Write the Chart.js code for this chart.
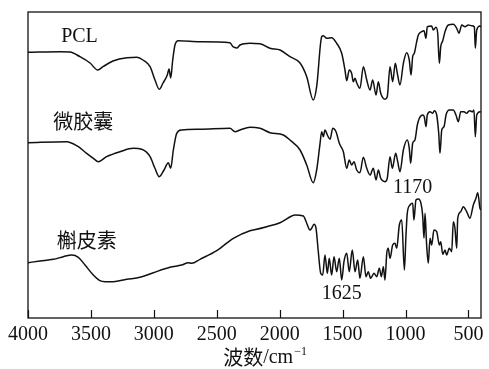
<!doctype html>
<html lang="zh">
  <head>
    <meta charset="utf-8">
    <script src="https://cdn.jsdelivr.net/npm/chart.js@4.4.1/dist/chart.umd.min.js"></script>
    <style>
      html, body { margin: 0; padding: 0; background: #fff; }
      #wrap { width: 489px; height: 369px; }
    </style>
  </head>
  <body>
    <div id="wrap"><canvas id="ftir"></canvas></div>
    <script>
      // tick labels of the wavenumber axis
      const tickValues = [4000, 3500, 3000, 2500, 2000, 1500, 1000, 500];

      // PCL spectrum (wavenumber / relative transmittance, stacked offset)
      const pclWn = [4000, 3746, 3666, 3587, 3507, 3446, 3404, 3325, 3213, 3134, 3086, 3030, 2991, 2957, 2927, 2893, 2879, 2866, 2850, 2832, 2806, 2633, 2395, 2371, 2341, 2315, 2236, 2156, 2077, 1997, 1918, 1838, 1785, 1733, 1706, 1666, 1653, 1626, 1587, 1547, 1507, 1481, 1467, 1447, 1428, 1415, 1401, 1388, 1362, 1335, 1308, 1282, 1261, 1234, 1216, 1197, 1163, 1145, 1123, 1102, 1081, 1065, 1044, 1017, 991, 970, 956, 943, 930, 911, 898, 871, 853, 837, 827, 792, 779, 758, 744, 731, 720, 704, 686, 660, 620, 593, 575, 553, 527, 501, 474, 453, 445, 434, 408, 400];
      const pclT = [265.7, 266.3, 266, 261.3, 255, 248, 251.3, 257, 260.3, 260.7, 258, 251.3, 238, 228.7, 235, 243, 249, 240, 258, 273, 277.3, 276.3, 275.3, 271.3, 270, 273, 274.7, 274.3, 269.7, 268, 261.3, 255, 241.3, 218, 231.3, 281.3, 282.3, 279.7, 280.3, 274.7, 264.7, 248, 237.3, 248, 244.7, 236.3, 239.7, 235.3, 229.7, 251.3, 238, 228, 238, 223, 236.3, 224.7, 218.7, 221.3, 251.3, 236.3, 254.7, 244.7, 233, 254.7, 265.3, 258, 243, 261.3, 264.7, 276.3, 283, 286.3, 287.3, 279.7, 291.3, 292, 288, 290.7, 284.7, 254.7, 271.3, 277.3, 286.3, 293, 293.7, 289.7, 284.7, 293, 291.3, 293, 292.3, 291.3, 269.7, 288, 292, 291];

      // 微胶囊 spectrum
      const capWn = [4000, 3692, 3613, 3534, 3481, 3441, 3375, 3269, 3163, 3096, 3030, 2991, 2957, 2919, 2885, 2866, 2845, 2818, 2779, 2633, 2395, 2355, 2315, 2236, 2156, 2077, 1971, 1918, 1838, 1785, 1733, 1706, 1679, 1666, 1653, 1640, 1621, 1600, 1578, 1552, 1526, 1494, 1467, 1447, 1428, 1409, 1388, 1362, 1335, 1308, 1282, 1256, 1234, 1216, 1197, 1163, 1145, 1123, 1105, 1078, 1062, 1044, 1017, 986, 970, 959, 943, 925, 906, 890, 863, 851, 837, 827, 805, 784, 771, 752, 736, 726, 712, 694, 678, 652, 620, 599, 580, 561, 535, 514, 493, 466, 456, 445, 434, 408, 400];
      const capT = [175.3, 176.3, 172.3, 164.7, 159.7, 156.3, 161.3, 166.3, 169.7, 168.7, 161.3, 149.7, 141.3, 148, 155.3, 149.7, 168, 184.7, 188, 188.7, 189.7, 186.3, 188, 190.7, 189.7, 185.3, 183, 178, 168, 153, 135.3, 148, 174.7, 186.3, 181.3, 188, 183, 178.7, 189.7, 186.3, 174.7, 166.3, 149.7, 158, 153, 156.3, 148, 145.3, 160.7, 149.7, 143, 149.7, 138, 148, 139.7, 136.3, 139.7, 161.3, 149.7, 164.7, 156.3, 146.3, 168, 178, 169.7, 154.7, 174.7, 178, 193, 199.7, 203, 201.3, 191.3, 203, 206.3, 204.7, 207.3, 203, 184.7, 164.7, 188, 191.3, 203, 208, 208, 203, 196.3, 206.3, 206.3, 204.7, 207.3, 206.3, 208, 181.3, 203, 206.3, 206];

      // 槲皮素 spectrum
      const querWn = [4000, 3905, 3799, 3719, 3653, 3600, 3547, 3481, 3428, 3388, 3322, 3216, 3110, 3004, 2872, 2779, 2726, 2699, 2633, 2500, 2368, 2236, 2209, 2103, 1997, 1904, 1878, 1812, 1785, 1759, 1746, 1727, 1711, 1693, 1674, 1658, 1640, 1621, 1606, 1587, 1568, 1547, 1526, 1507, 1489, 1467, 1447, 1423, 1401, 1380, 1362, 1335, 1314, 1296, 1277, 1250, 1229, 1208, 1192, 1176, 1163, 1149, 1137, 1123, 1102, 1083, 1070, 1049, 1030, 1009, 996, 986, 964, 943, 933, 917, 898, 877, 864, 853, 845, 832, 819, 805, 792, 774, 752, 731, 720, 704, 686, 673, 652, 633, 620, 607, 593, 585, 561, 541, 514, 488, 461, 440, 426, 408, 400];
      const querT = [55.3, 57, 58.7, 61.3, 63, 60.7, 53, 43, 37.3, 36.3, 36.3, 38.7, 40.7, 45.3, 50.7, 53, 55.3, 54.7, 58.7, 67.3, 79.7, 87.3, 88, 91.3, 95.3, 102, 103, 102, 94.7, 88, 89.7, 93.7, 89.7, 66.3, 44.7, 43, 63, 44.7, 59.7, 43, 61.3, 46.3, 59.7, 38, 56.3, 64.7, 46.3, 68, 46.3, 58, 39.7, 61.3, 41.3, 46.3, 39.7, 44.7, 41.3, 49.7, 41.3, 51.3, 38, 64.7, 69.7, 59.7, 73, 74.7, 69.7, 93, 98, 48, 83, 104.7, 113, 114.7, 98, 118, 119, 114.7, 103, 79.7, 104.7, 73, 54.7, 79.7, 73, 88, 86.3, 73, 76.3, 63.7, 68, 63, 69.7, 66.3, 96.3, 89.7, 69.7, 99.7, 106.3, 111.3, 106.3, 99.7, 113, 119.7, 125.3, 109.7, 108];

      // text labels inside the plot, anchored in data units
      const noteText = ['PCL', '微胶囊', '槲皮素', '1170', '1625'];
      const noteWn = [3591, 3560, 3534, 944, 1507];
      const noteT = [281, 196.3, 78, 130, 24];

      const serif = '"Liberation Serif", "Times New Roman", serif';
      const cjk = '"Noto Sans CJK SC", sans-serif';

      function pairs(xs, ys) {
        return xs.map((x, i) => ({ x: x, y: ys[i] }));
      }

      function lineSet(label, xs, ys) {
        return {
          label: label,
          data: pairs(xs, ys),
          borderColor: '#111',
          borderWidth: 1.5,
          pointRadius: 0,
          cubicInterpolationMode: 'monotone',
          fill: false
        };
      }

      //frame, inward ticks, labels and axis title
      const decor = {
        id: 'decor',
        afterDraw(chart) {
          const ctx = chart.ctx;
          const a = chart.chartArea;
          const xs = chart.scales.x;
          const ys = chart.scales.y;
          ctx.save();
          ctx.strokeStyle = '#111';
          ctx.lineWidth = 1.3;
          ctx.strokeRect(a.left, a.top, a.right - a.left, a.bottom - a.top);
          ctx.lineWidth = 1.2;
          tickValues.forEach((v) => {
            const px = Math.round(xs.getPixelForValue(v)) + 0.5;
            ctx.beginPath();
            ctx.moveTo(px, a.bottom);
            ctx.lineTo(px, a.bottom - 8);
            ctx.stroke();
          });

          ctx.fillStyle = '#111';
          ctx.textAlign = 'center';
          ctx.textBaseline = 'middle';
          noteText.forEach((t, i) => {
            const isCjk = /[\u4e00-\u9fff]/.test(t);
            ctx.font = isCjk ? '20px ' + cjk : '20px ' + serif;
            ctx.fillText(t, xs.getPixelForValue(noteWn[i]), ys.getPixelForValue(noteT[i]));
          });

          // axis title: 波数/cm-1
          const cx = xs.getPixelForValue(2120);
          const cy = a.bottom + 39;
          ctx.textAlign = 'left';
          ctx.font = '20px ' + cjk;
          const w1 = ctx.measureText('波数').width;
          ctx.font = '20px ' + serif;
          const w2 = ctx.measureText('/cm').width;
          ctx.font = '12px ' + serif;
          const w3 = ctx.measureText('\u22121').width;
          let x0 = cx - (w1 + w2 + w3) / 2;
          ctx.font = '20px ' + cjk;
          ctx.fillText('波数', x0, cy);
          x0 += w1;
          ctx.font = '20px ' + serif;
          ctx.fillText('/cm', x0, cy + 1);
          x0 += w2;
          ctx.font = '12px ' + serif;
          ctx.fillText('\u22121', x0 + 1, cy - 5);
          ctx.restore();
        }
      };

      new Chart(document.getElementById('ftir'), {
        type: 'line',
        data: {
          datasets: [
            lineSet('PCL', pclWn, pclT),
            lineSet('微胶囊', capWn, capT),
            lineSet('槲皮素', querWn, querT)
          ]
        },
        options: {
          responsive: true,
          maintainAspectRatio: false,
          animation: false,
          layout: { padding: { left: 28, right: 8, top: 12, bottom: 0 } },
          plugins: {
            legend: { display: false },
            tooltip: { enabled: false }
          },
          scales: {
            x: {
              type: 'linear',
              reverse: true,
              min: 400,
              max: 4000,
              grid: { display: false, drawTicks: false },
              border: { display: false },
              afterBuildTicks: (scale) => {
                scale.ticks = tickValues.map((v) => ({ value: v }));
              },
              afterFit: (scale) => {
                scale.height = 51;
              },
              ticks: {
                autoSkip: false,
                maxRotation: 0,
                padding: 5,
                color: '#111',
                font: { family: serif, size: 20 },
                callback: (v) => String(v)
              }
            },
            y: {
              display: false,
              min: 0,
              max: 306
            }
          }
        },
        plugins: [decor]
      });
    </script>
  </body>
</html>
